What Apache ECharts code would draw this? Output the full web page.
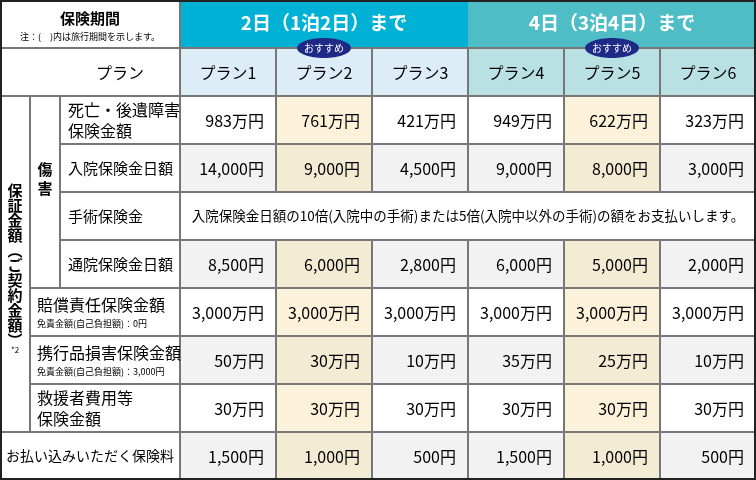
<!DOCTYPE html><html><head><meta charset="utf-8"><script src="https://cdn.jsdelivr.net/npm/echarts@6/dist/echarts.min.js"></script>
<style>body{margin:0}#c{width:756px;height:480px}</style></head><body><div id="c"></div><script>
const periods=['2日（1泊2日）まで','4日（3泊4日）まで'];
const plans=['プラン1','プラン2','プラン3','プラン4','プラン5','プラン6'];
const recommended=[1,4];
const rowLabels=[['死亡・後遺障害','保険金額'],['入院保険金日額'],['手術保険金'],['通院保険金日額'],['賠償責任保険金額'],['携行品損害保険金額'],['救援者費用等','保険金額'],['お払い込みいただく保険料']];
const rowSubs=['','','','','免責金額(自己負担額)：0円','免責金額(自己負担額)：3,000円','',''];
const values=[
['983万円','761万円','421万円','949万円','622万円','323万円'],
['14,000円','9,000円','4,500円','9,000円','8,000円','3,000円'],
null,
['8,500円','6,000円','2,800円','6,000円','5,000円','2,000円'],
['3,000万円','3,000万円','3,000万円','3,000万円','3,000万円','3,000万円'],
['50万円','30万円','10万円','35万円','25万円','10万円'],
['30万円','30万円','30万円','30万円','30万円','30万円'],
['1,500円','1,000円','500円','1,500円','1,000円','500円']];
const surgeryText='入院保険金日額の10倍(入院中の手術)または5倍(入院中以外の手術)の額をお支払いします。';
const F='"Noto Sans CJK JP", sans-serif';
const X0=180,CW=96,RH=48,LC='#777';
const g=[];
function rect(x,y,w,h,fill){g.push({type:'rect',shape:{x,y,width:w,height:h},style:{fill},z:1});}
function text(x,y,t,o){g.push({type:'text',x,y,style:Object.assign({text:t,font:'15px '+F,fill:'#000',align:'center',verticalAlign:'middle'},o||{}),z:5});}
function line(x1,y1,x2,y2,c,w){g.push({type:'line',shape:{x1,y1,x2,y2},style:{stroke:c||LC,lineWidth:w||2},z:3});}
rect(0,0,756,480,'#fff');
rect(X0,0,288,48,'#00b1d6');rect(X0+288,0,288,48,'#4fbdc6');
rect(X0,48,288,48,'#dcedf7');rect(X0+288,48,288,48,'#b9e1e3');
rowLabels.forEach((r,i)=>{const y=96+i*RH;const grey=i%2==1;
 if(i===2){rect(X0,y,576,RH,'#fff');return;}
 for(let c=0;c<6;c++){const hl=recommended.includes(c);
  rect(X0+c*CW,y,CW,RH,hl?(grey?'#f4ebd4':'#fcf2d9'):(grey?'#f2f2f2':'#fff'));}
});
text(90,18,'保険期間',{font:'bold 15px '+F});
text(90,37,'注：(　)内は旅行期間を示します。',{font:'9px '+F});
periods.forEach((p,i)=>text(X0+144+i*288,23,p,{font:'bold 19px '+F,fill:'#fff'}));
text(120,73,'プラン',{font:'16px '+F});
plans.forEach((p,i)=>text(X0+48+i*CW,73,p,{font:'16px '+F}));
recommended.forEach(c=>{g.push({type:'ellipse',shape:{cx:X0+48+c*CW,cy:48,rx:27,ry:10},style:{fill:'#1f2a87'},z:6});
 g.push({type:'text',x:X0+48+c*CW,y:48,style:{text:'おすすめ',font:'10px '+F,fill:'#fff',align:'center',verticalAlign:'middle'},z:7});});
g.push({type:'text',x:15,y:265,style:{text:'保\n証\n金\n額\n︵\nご\n契\n約\n金\n額\n︶',font:'bold 15px '+F,fill:'#000',align:'center',verticalAlign:'middle',lineHeight:15},z:5});
text(15,350,'*2',{font:'8px '+F});
g.push({type:'text',x:45,y:160,style:{text:'傷\n害',font:'bold 15px '+F,fill:'#000',align:'center',verticalAlign:'top',lineHeight:19},z:5});
rowLabels.forEach((r,i)=>{const y=96+i*RH;const lx=i<4?68:37;
 if(i===7){text(90,y+24,r[0],{font:'14px '+F});}
 else if(rowSubs[i]){text(lx,y+17,r[0],{align:'left',font:'16px '+F});text(lx,y+36,rowSubs[i],{align:'left',font:'9px '+F});}
 else if(r.length===2){text(lx,y+14,r[0],{align:'left',font:'16px '+F});text(lx,y+35,r[1],{align:'left',font:'16px '+F});}
 else text(lx,y+24,r[0],{align:'left',font:'15px '+F});
 if(i===2){text(X0+288,y+24,surgeryText,{font:'13.5px '+F});return;}
 values[i].forEach((v,c)=>text(X0+(c+1)*CW-12,y+25,v,{align:'right',font:'16px '+F}));
});
line(0,48,756,48);line(0,96,756,96);
for(let i=1;i<8;i++){const y=96+i*RH;const x=i<4?60:(i===7?0:30);line(x,y,756,y);}
line(30,96,30,432);line(60,96,60,288);line(180,0,180,480);
for(let c=1;c<6;c++){const x=X0+c*CW;line(x,48,x,192);line(x,240,x,480);}
g.push({type:'rect',shape:{x:1,y:1,width:754,height:478},style:{fill:null,stroke:'#222',lineWidth:2},z:8});
const ch=echarts.init(document.getElementById('c'));
ch.setOption({animation:false,graphic:g});
</script></body></html>
